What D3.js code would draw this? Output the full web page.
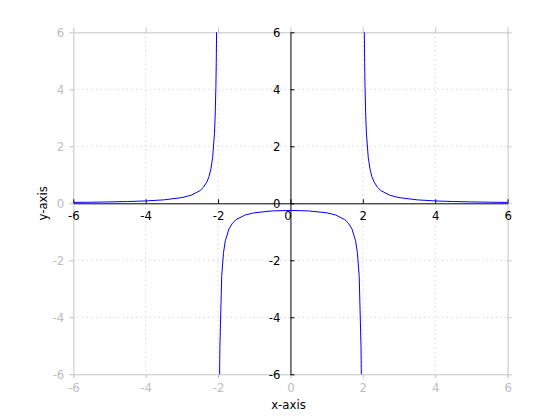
<!DOCTYPE html>
<html>
<head>
<meta charset="utf-8">
<script src="https://cdn.jsdelivr.net/npm/d3@7"></script>
<style>
  html, body { margin: 0; padding: 0; background: #fff; }
  svg text { font-family: "Liberation Sans Narrow", "DejaVu Sans Condensed", "DejaVu Sans Mono", monospace; font-size: 13px; font-stretch: condensed; }
</style>
</head>
<body>
<svg id="chart" width="560" height="420"></svg>
<script>
// ---- data ----
const xTicks = [-6, -4, -2, 0, 2, 4, 6];
const yTicks = [-6, -4, -2, 0, 2, 4, 6];
const xLabel = "x-axis";
const yLabel = "y-axis";

// left branch (x < -2)
const leftX = [-6, -5.5, -5, -4.5, -4, -3.5, -3, -2.75, -2.5, -2.4, -2.3, -2.25, -2.2, -2.15, -2.1, -2.08, -2.06, -2.05, -2.041];
const leftY = [0.031, 0.038, 0.048, 0.062, 0.083, 0.121, 0.2, 0.281, 0.444, 0.568, 0.775, 0.941, 1.19, 1.606, 2.439, 3.064, 4.105, 4.938, 6.0];
// middle branch (-2 < x < 2)
const midX = [-1.958, -1.95, -1.9, -1.85, -1.8, -1.7, -1.6, -1.5, -1.25, -1, -0.5, 0, 0.5, 1, 1.25, 1.5, 1.6, 1.7, 1.8, 1.85, 1.9, 1.95, 1.958];
const midY = [-6.0, -5.063, -2.564, -1.732, -1.316, -0.901, -0.694, -0.571, -0.41, -0.333, -0.267, -0.25, -0.267, -0.333, -0.41, -0.571, -0.694, -0.901, -1.316, -1.732, -2.564, -5.063, -6.0];
// right branch (x > 2)
const rightX = [2.041, 2.05, 2.06, 2.08, 2.1, 2.15, 2.2, 2.25, 2.3, 2.4, 2.5, 2.75, 3, 3.5, 4, 4.5, 5, 5.5, 6];
const rightY = [6.0, 4.938, 4.105, 3.064, 2.439, 1.606, 1.19, 0.941, 0.775, 0.568, 0.444, 0.281, 0.2, 0.121, 0.083, 0.062, 0.048, 0.038, 0.031];

// ---- drawing ----
const svg = d3.select("#chart");
const L = 73.3, R = 507.6, T = 32.3, B = 374.3;
const x = d3.scaleLinear().domain([-6, 6]).range([L, R]);
const y = d3.scaleLinear().domain([-6, 6]).range([B, T]);
const gray = "#c4c4c4";
const grayText = "#bdbdbd";
const fmt = d => String(d);

// grid
const grid = svg.append("g");
grid.selectAll("line.gx").data(xTicks.filter(d => d !== 0 && Math.abs(d) !== 6)).enter()
  .append("line").attr("x1", d => x(d)).attr("x2", d => x(d)).attr("y1", T).attr("y2", B)
  .attr("stroke", gray).attr("stroke-dasharray", "1,3.5");
grid.selectAll("line.gy").data(yTicks.filter(d => d !== 0 && Math.abs(d) !== 6)).enter()
  .append("line").attr("y1", d => y(d)).attr("y2", d => y(d)).attr("x1", L).attr("x2", R)
  .attr("stroke", gray).attr("stroke-dasharray", "1,3.5");

// gray frame axes
function styleGray(g, showLabels) {
  g.selectAll(".domain").attr("stroke", gray);
  g.selectAll(".tick line").attr("stroke", gray);
  g.selectAll(".tick text").attr("fill", grayText).style("display", showLabels ? null : "none");
}
svg.append("g").attr("transform", `translate(0,${B})`)
  .call(d3.axisBottom(x).tickValues(xTicks).tickSize(4).tickSizeOuter(0).tickFormat(fmt))
  .call(g => styleGray(g, true))
  .call(g => g.selectAll(".tick text").attr("y", 0).attr("dy", 0).attr("transform", "translate(0,18)"));
svg.append("g").attr("transform", `translate(0,${T})`)
  .call(d3.axisTop(x).tickValues(xTicks).tickSize(5).tickSizeOuter(0))
  .call(g => styleGray(g, false));
svg.append("g").attr("transform", `translate(${L},0)`)
  .call(d3.axisLeft(y).tickValues(yTicks).tickSize(4).tickSizeOuter(0).tickFormat(fmt))
  .call(g => styleGray(g, true))
  .call(g => g.selectAll(".tick text").attr("x", -9).attr("dy", "0.36em"));
svg.append("g").attr("transform", `translate(${R},0)`)
  .call(d3.axisRight(y).tickValues(yTicks).tickSize(4).tickSizeOuter(0))
  .call(g => styleGray(g, false));

// black axes through origin
svg.append("g").attr("transform", `translate(0,${y(0)})`)
  .call(d3.axisTop(x).tickValues(xTicks).tickSize(4).tickSizeOuter(0).tickFormat(fmt))
  .call(g => g.selectAll(".domain").attr("stroke", "#000"))
  .call(g => g.selectAll(".tick line").attr("stroke", "#000"))
  .call(g => g.selectAll(".tick text").attr("fill", "#000").attr("y", 0).attr("dy", 0)
    .attr("transform", d => d === 0 ? "translate(-3,17)" : "translate(0,17)"));
svg.append("g").attr("transform", `translate(${x(0)},0)`)
  .call(d3.axisRight(y).tickValues(yTicks).tickSize(4).tickSizeOuter(0).tickFormat(fmt))
  .call(g => g.selectAll(".domain").attr("stroke", "#000"))
  .call(g => g.selectAll(".tick line").attr("stroke", "#000"))
  .call(g => g.selectAll(".tick text").attr("fill", "#000").attr("x", -10).attr("text-anchor", "end").attr("dy", "0.36em"));

// curves
const line = d3.line().x(d => x(d[0])).y(d => y(d[1]));
const branches = [
  d3.zip(leftX, leftY),
  d3.zip(midX, midY),
  d3.zip(rightX, rightY)
];
svg.append("g").selectAll("path").data(branches).enter().append("path")
  .attr("d", line).attr("fill", "none").attr("stroke", "#0000ff").attr("stroke-width", 1);

// axis titles
svg.append("text").attr("x", (L + R) / 2 - 2).attr("y", 409).attr("text-anchor", "middle").attr("fill", "#000").text(xLabel);
svg.append("text").attr("transform", `translate(47,${(T + B) / 2}) rotate(-90)`).attr("text-anchor", "middle").attr("fill", "#000").text(yLabel);
</script>
</body>
</html>
